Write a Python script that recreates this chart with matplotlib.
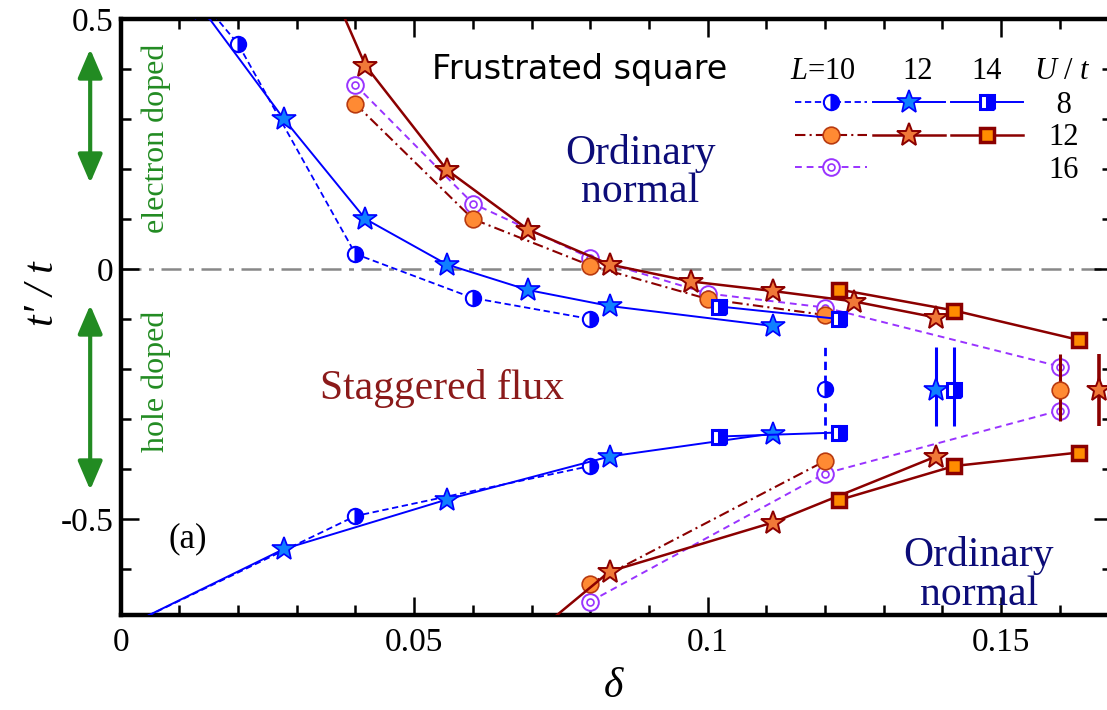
import matplotlib
matplotlib.use("Agg")
import matplotlib.pyplot as plt
from matplotlib.lines import Line2D
from matplotlib.ticker import MultipleLocator, FixedLocator

plt.rcParams['font.family'] = ['Liberation Serif', 'DejaVu Serif']
plt.rcParams['axes.unicode_minus'] = False
plt.rcParams['mathtext.fontset'] = 'custom'
plt.rcParams['mathtext.rm'] = 'Liberation Serif'
plt.rcParams['mathtext.it'] = 'Liberation Serif:italic'

# ---- U/t = 8 ----
# L = 10 (delta = n/100)
d10_u8_up = [0.01, 0.02, 0.04, 0.06, 0.08]
t10_u8_up = [0.59, 0.45, 0.03, -0.058, -0.10]
d10_u8_lo = [0.0, 0.04, 0.08]
t10_u8_lo = [-0.72, -0.494, -0.394]
d10_u8_err = [0.12]
t10_u8_err = [-0.239]
e10_u8_err = [[0.10], [0.084]]
# L = 12 (delta = n/144)
d12_u8_up = [0.0139, 0.0278, 0.0417, 0.0556, 0.0694, 0.0833, 0.1111]
t12_u8_up = [0.52, 0.30, 0.10, 0.009, -0.042, -0.074, -0.114]
d12_u8_lo = [0.0, 0.0278, 0.0556, 0.0833, 0.1111]
t12_u8_lo = [-0.72, -0.56, -0.461, -0.375, -0.329]
d12_u8_err = [0.1389]
t12_u8_err = [-0.241]
e12_u8_err = [[0.073], [0.086]]
# L = 14 (delta = n/196)
d14_u8_up = [0.1020, 0.1224]
t14_u8_up = [-0.075, -0.100]
d14_u8_lo = [0.1020, 0.1224]
t14_u8_lo = [-0.335, -0.327]
d14_u8_err = [0.1420]
t14_u8_err = [-0.241]
e14_u8_err = [[0.073], [0.086]]

# ---- U/t = 12 ----
d10_u12_up = [0.04, 0.06, 0.08, 0.10, 0.12]
t10_u12_up = [0.33, 0.10, 0.007, -0.06, -0.092]
d10_u12_lo = [0.08, 0.12]
t10_u12_lo = [-0.629, -0.384]
d10_u12_err = [0.16]
t10_u12_err = [-0.241]
e10_u12_err = [[0.062], [0.071]]
d12_u12_up = [0.0278, 0.0417, 0.0556, 0.0694, 0.0833, 0.0972, 0.1111, 0.125, 0.1389]
t12_u12_up = [0.78, 0.407, 0.198, 0.079, 0.009, -0.025, -0.044, -0.065, -0.097]
d12_u12_lo = [0.0694, 0.0833, 0.1111, 0.1389]
t12_u12_lo = [-0.74, -0.605, -0.507, -0.375]
d12_u12_err = [0.1667]
t12_u12_err = [-0.242]
e12_u12_err = [[0.072], [0.072]]
d14_u12_up = [0.1224, 0.1420, 0.1633]
t14_u12_up = [-0.041, -0.083, -0.142]
d14_u12_lo = [0.1224, 0.1420, 0.1633]
t14_u12_lo = [-0.462, -0.394, -0.367]

# ---- U/t = 16 ----
d10_u16_up = [0.04, 0.06, 0.08, 0.10, 0.12, 0.16]
t10_u16_up = [0.368, 0.131, 0.022, -0.049, -0.077, -0.195]
d10_u16_lo = [0.08, 0.12, 0.16]
t10_u16_lo = [-0.665, -0.409, -0.283]

blue = '#0000FF'
blue_star = '#1080FF'
dred = '#8B0000'
orange = '#FF8A33'
orange_edge = '#B83A10'
purple = '#9933FF'
green = '#228B22'

dash_b = (0, (3.5, 2))
dashdot_r = (0, (5, 2, 1, 2))
dash_p = (0, (3.5, 2.5))

circ8 = dict(marker='o', ms=11, fillstyle='right', markerfacecolor=blue,
             markerfacecoloralt='white', markeredgecolor=blue, mew=1.5)
star8 = dict(marker='*', ms=18, markerfacecolor=blue_star, markeredgecolor=blue, mew=1.2)
sq8 = dict(marker='s', ms=10, fillstyle='right', markerfacecolor=blue,
           markerfacecoloralt='white', markeredgecolor=blue, mew=2.2)
circ12 = dict(marker='o', ms=12, markerfacecolor=orange, markeredgecolor=orange_edge, mew=1.2)
star12 = dict(marker='*', ms=18, markerfacecolor='#F07838', markeredgecolor=dred, mew=1.4)
sq12 = dict(marker='s', ms=10, markerfacecolor='#FF8C00', markeredgecolor=dred, mew=2.5)
ring16 = dict(marker='o', ms=12, markerfacecolor='white', markeredgecolor=purple, mew=1.4)
dot16 = dict(marker='o', ms=5, markerfacecolor='white', markeredgecolor=purple, mew=1.2)

fig = plt.figure(figsize=(11.07, 7.10), dpi=100)
ax = fig.add_axes([120.7 / 1107, 95 / 710, (1112 - 120.7) / 1107, 596 / 710])
ax.set_xlim(0, 0.1689)
ax.set_ylim(-0.692, 0.5)

ax.axhline(0, color='#888888', lw=1.8, ls=(0, (8, 3, 2, 3)), zorder=1)

# U/t = 16, L = 10
for d, t in [(d10_u16_up, t10_u16_up), (d10_u16_lo, t10_u16_lo)]:
    ax.plot(d, t, color=purple, lw=1.4, ls=dash_p, zorder=2, **ring16)
    ax.plot(d, t, ls='none', zorder=2, **dot16)

# U/t = 12
for d, t in [(d10_u12_up, t10_u12_up), (d10_u12_lo, t10_u12_lo)]:
    ax.plot(d, t, color=dred, lw=1.5, ls=dashdot_r, zorder=3, **circ12)
for d, t in [(d12_u12_up, t12_u12_up), (d12_u12_lo, t12_u12_lo)]:
    ax.plot(d, t, color=dred, lw=1.8, zorder=3, **star12)
for d, t in [(d14_u12_up, t14_u12_up), (d14_u12_lo, t14_u12_lo)]:
    ax.plot(d, t, color=dred, lw=1.8, zorder=3, **sq12)

# U/t = 8
for d, t in [(d10_u8_up, t10_u8_up), (d10_u8_lo, t10_u8_lo)]:
    ax.plot(d, t, color=blue, lw=1.3, ls=dash_b, zorder=4, **circ8)
for d, t in [(d12_u8_up, t12_u8_up), (d12_u8_lo, t12_u8_lo)]:
    ax.plot(d, t, color=blue, lw=1.4, zorder=4, **star8)
for d, t in [(d14_u8_up, t14_u8_up), (d14_u8_lo, t14_u8_lo)]:
    ax.plot(d, t, color=blue, lw=1.4, zorder=4, **sq8)

# points at the transition with error bars
eb = ax.errorbar(d10_u8_err, t10_u8_err, yerr=e10_u8_err, ls='none', ecolor=blue,
                 elinewidth=2.0, capsize=0, zorder=4, **circ8)
eb[2][0].set_linestyle((0, (3, 2)))
ax.errorbar(d12_u8_err, t12_u8_err, yerr=e12_u8_err, ls='none', ecolor=blue,
            elinewidth=2.2, capsize=0, zorder=4, **star8)
ax.errorbar(d14_u8_err, t14_u8_err, yerr=e14_u8_err, ls='none', ecolor=blue,
            elinewidth=2.2, capsize=0, zorder=4, **sq8)
ax.errorbar(d10_u12_err, t10_u12_err, yerr=e10_u12_err, ls='none', ecolor=dred,
            elinewidth=2.2, capsize=0, zorder=3, **circ12)
ax.errorbar(d12_u12_err, t12_u12_err, yerr=e12_u12_err, ls='none', ecolor=dred,
            elinewidth=2.6, capsize=0, zorder=3, **star12)

# axes styling
for s in ax.spines.values():
    s.set_linewidth(3.2)
ax.xaxis.set_major_locator(FixedLocator([0, 0.05, 0.1, 0.15]))
ax.set_xticklabels(['0', '0.05', '0.1', '0.15'])
ax.xaxis.set_minor_locator(MultipleLocator(0.01))
ax.yaxis.set_major_locator(FixedLocator([-0.5, 0, 0.5]))
ax.set_yticklabels(['-0.5', '0', '0.5'])
ax.yaxis.set_minor_locator(MultipleLocator(0.1))
ax.tick_params(which='both', direction='in', top=True, right=True, width=1.8)
ax.tick_params(which='major', length=13, labelsize=24)
ax.tick_params(which='minor', length=7)
ax.tick_params(axis='x', which='major', pad=9)
ax.tick_params(axis='y', which='major', pad=5)

ax.set_xlabel('δ', fontsize=30, fontstyle='italic')
ax.xaxis.set_label_coords(0.4966, -0.088)
ax.set_ylabel('t′ / t', fontsize=30, fontstyle='italic')
ax.yaxis.set_label_coords(-0.059, 0.54)

# region labels
ax.text(0.0782, 0.398, 'Frustrated square', family='DejaVu Sans', fontsize=24,
        ha='center', va='center')
ax.text(0.0885, 0.193, 'Ordinary\nnormal', color='#0C0C78', fontsize=30,
        ha='center', va='center', linespacing=0.97)
ax.text(0.1462, -0.612, 'Ordinary\nnormal', color='#0C0C78', fontsize=30,
        ha='center', va='center', linespacing=1.0)
ax.text(0.0547, -0.239, 'Staggered flux', color='#8B1A1A', fontsize=30,
        ha='center', va='center')
ax.text(0.0115, -0.539, '(a)', fontsize=25, ha='center', va='center')
ax.text(0.0061, 0.261, 'electron doped', color=green, fontsize=23, rotation=90,
        ha='center', va='center')
ax.text(0.0061, -0.225, 'hole doped', color=green, fontsize=23, rotation=90,
        ha='center', va='center')

arrow = dict(arrowstyle='<|-|>,head_length=0.7,head_width=0.3', color=green, lw=3,
             mutation_scale=25, shrinkA=0, shrinkB=0)
ax.annotate('', xy=(-0.0052, 0.44), xytext=(-0.0052, 0.172), arrowprops=arrow,
            annotation_clip=False)
ax.annotate('', xy=(-0.0052, -0.072), xytext=(-0.0052, -0.442), arrowprops=arrow,
            annotation_clip=False)

# legend table: columns L = 10, 12, 14; rows U/t = 8, 12, 16
for x, s in [(0.1196, '$L$=10'), (0.1357, '12'), (0.1476, '14'), (0.1605, '$U$ / $t$')]:
    ax.text(x, 0.395, s, fontsize=22, ha='center', va='center')

blank = Line2D([], [], ls='none')
h = [Line2D([], [], color=blue, lw=1.3, ls=dash_b, **circ8),
     Line2D([], [], color=dred, lw=1.5, ls=dashdot_r, **circ12),
     (Line2D([], [], color=purple, lw=1.4, ls=dash_p, **ring16), Line2D([], [], ls='none', **dot16)),
     Line2D([], [], color=blue, lw=1.4, **star8),
     Line2D([], [], color=dred, lw=1.8, **star12),
     blank,
     Line2D([], [], color=blue, lw=1.4, **sq8),
     Line2D([], [], color=dred, lw=1.8, **sq12),
     blank]
labels = ['', '', '', '', '', '', ' 8', '12', '16']
ax.legend(h, labels, ncol=3, loc='upper left', bbox_to_anchor=(0.6802, 0.879),
          frameon=False, fontsize=22, handlelength=2.35, handletextpad=0.85,
          columnspacing=-0.65, labelspacing=0.11, borderpad=0, borderaxespad=0,
          numpoints=1)

fig.savefig('out.png', dpi=100)
